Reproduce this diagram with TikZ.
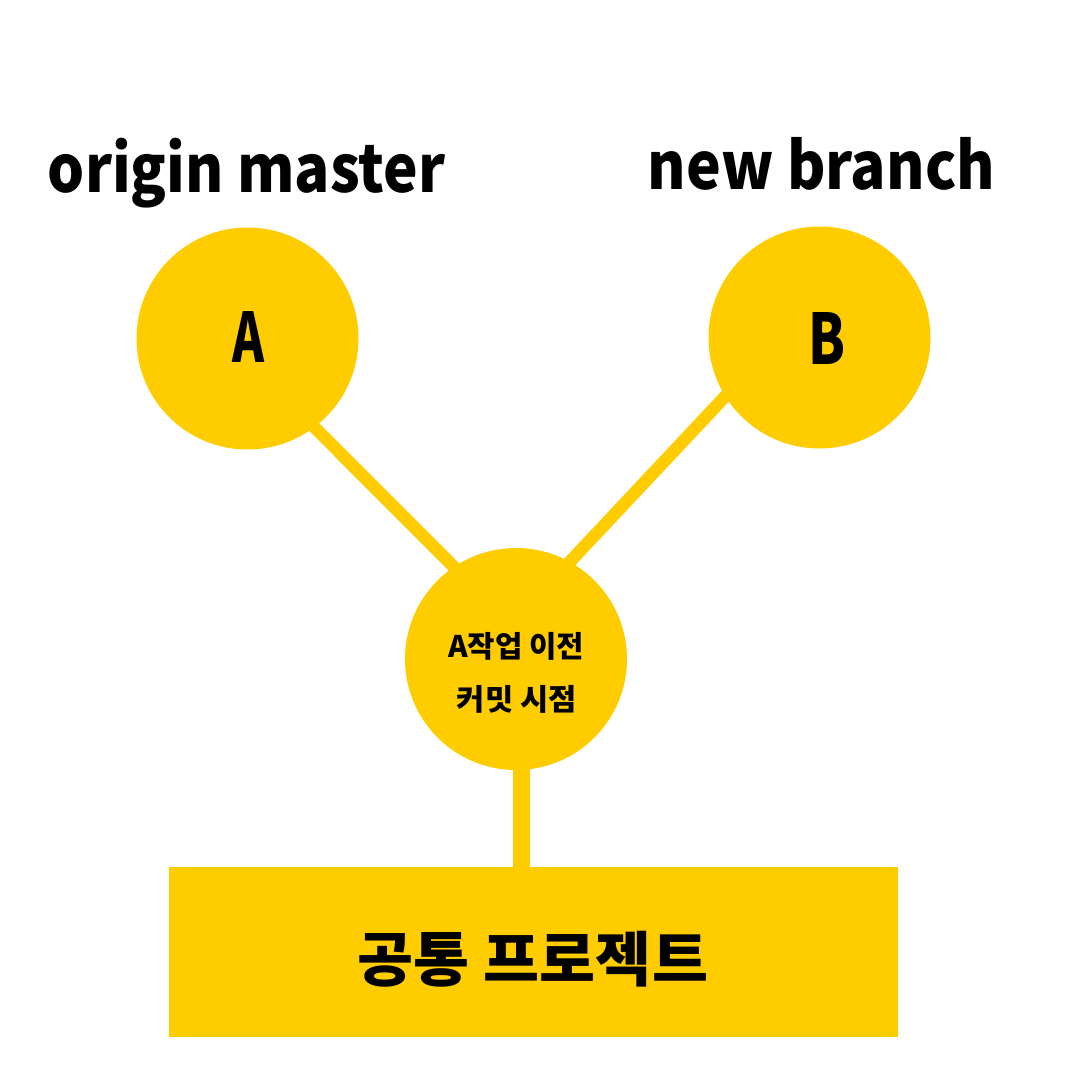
\documentclass[tikz,border=0pt]{standalone}
\usepackage{fontspec}
\usepackage{graphicx}
\newfontfamily\kr{Noto Sans CJK KR Black}
\usetikzlibrary{backgrounds,calc}
\definecolor{gold}{HTML}{FFCC00}
\tikzset{
  bubble/.style={circle, fill=gold, minimum size=222pt, inner sep=0pt},
  link/.style={draw=gold, line width=12.5pt},
  stem/.style={draw=gold, line width=17pt},
  label/.style={inner sep=0pt, text=black, font=\kr},
}
\begin{document}
\begin{tikzpicture}[x=1pt,y=-1pt]
\useasboundingbox (0,0) rectangle (1080,1080);
\node[bubble] (A) at (247.5,338.5) {};
\node[bubble] (B) at (819.5,337.5) {};
\node[bubble] (M) at (516,659) {};
\node[fill=gold, minimum width=729pt, minimum height=170pt, inner sep=0pt, anchor=north west] (P) at (169,867) {};
\coordinate (ms) at (M.-87);
\coordinate (pt) at (ms |- P.north);
\begin{pgfonlayer}{background}
\fill[white] (0,0) rectangle (1080,1080);
\draw[link, shorten <=-6pt, shorten >=-6pt] (A.-53) -- (M.124);
\draw[link, shorten <=-6pt, shorten >=-6pt] (B.212) -- (M.61);
\draw[stem, shorten <=-6pt, shorten >=-4pt] (ms) -- (pt);
\end{pgfonlayer}
\node[label] (t1) at (246.5,173) {\resizebox*{397pt}{70pt}{origin master}};
\node[label] (t2) at (821.5,163.5) {\resizebox*{347pt}{53pt}{new branch}};
\node[label] (la) at (249,336.5) {\resizebox*{32pt}{51pt}{A}};
\node[label] (lb) at (826.5,338) {\resizebox*{37pt}{52pt}{B}};
\node[label] (m1) at (516,646.5) {\resizebox*{136pt}{28pt}{A작업 이전}};
\node[label] (m2) at (517,699) {\resizebox*{120pt}{28pt}{커밋 시점}};
\node[label] (lp) at (533,959) {\resizebox*{350pt}{56pt}{공통 프로젝트}};
\end{tikzpicture}
\end{document}
